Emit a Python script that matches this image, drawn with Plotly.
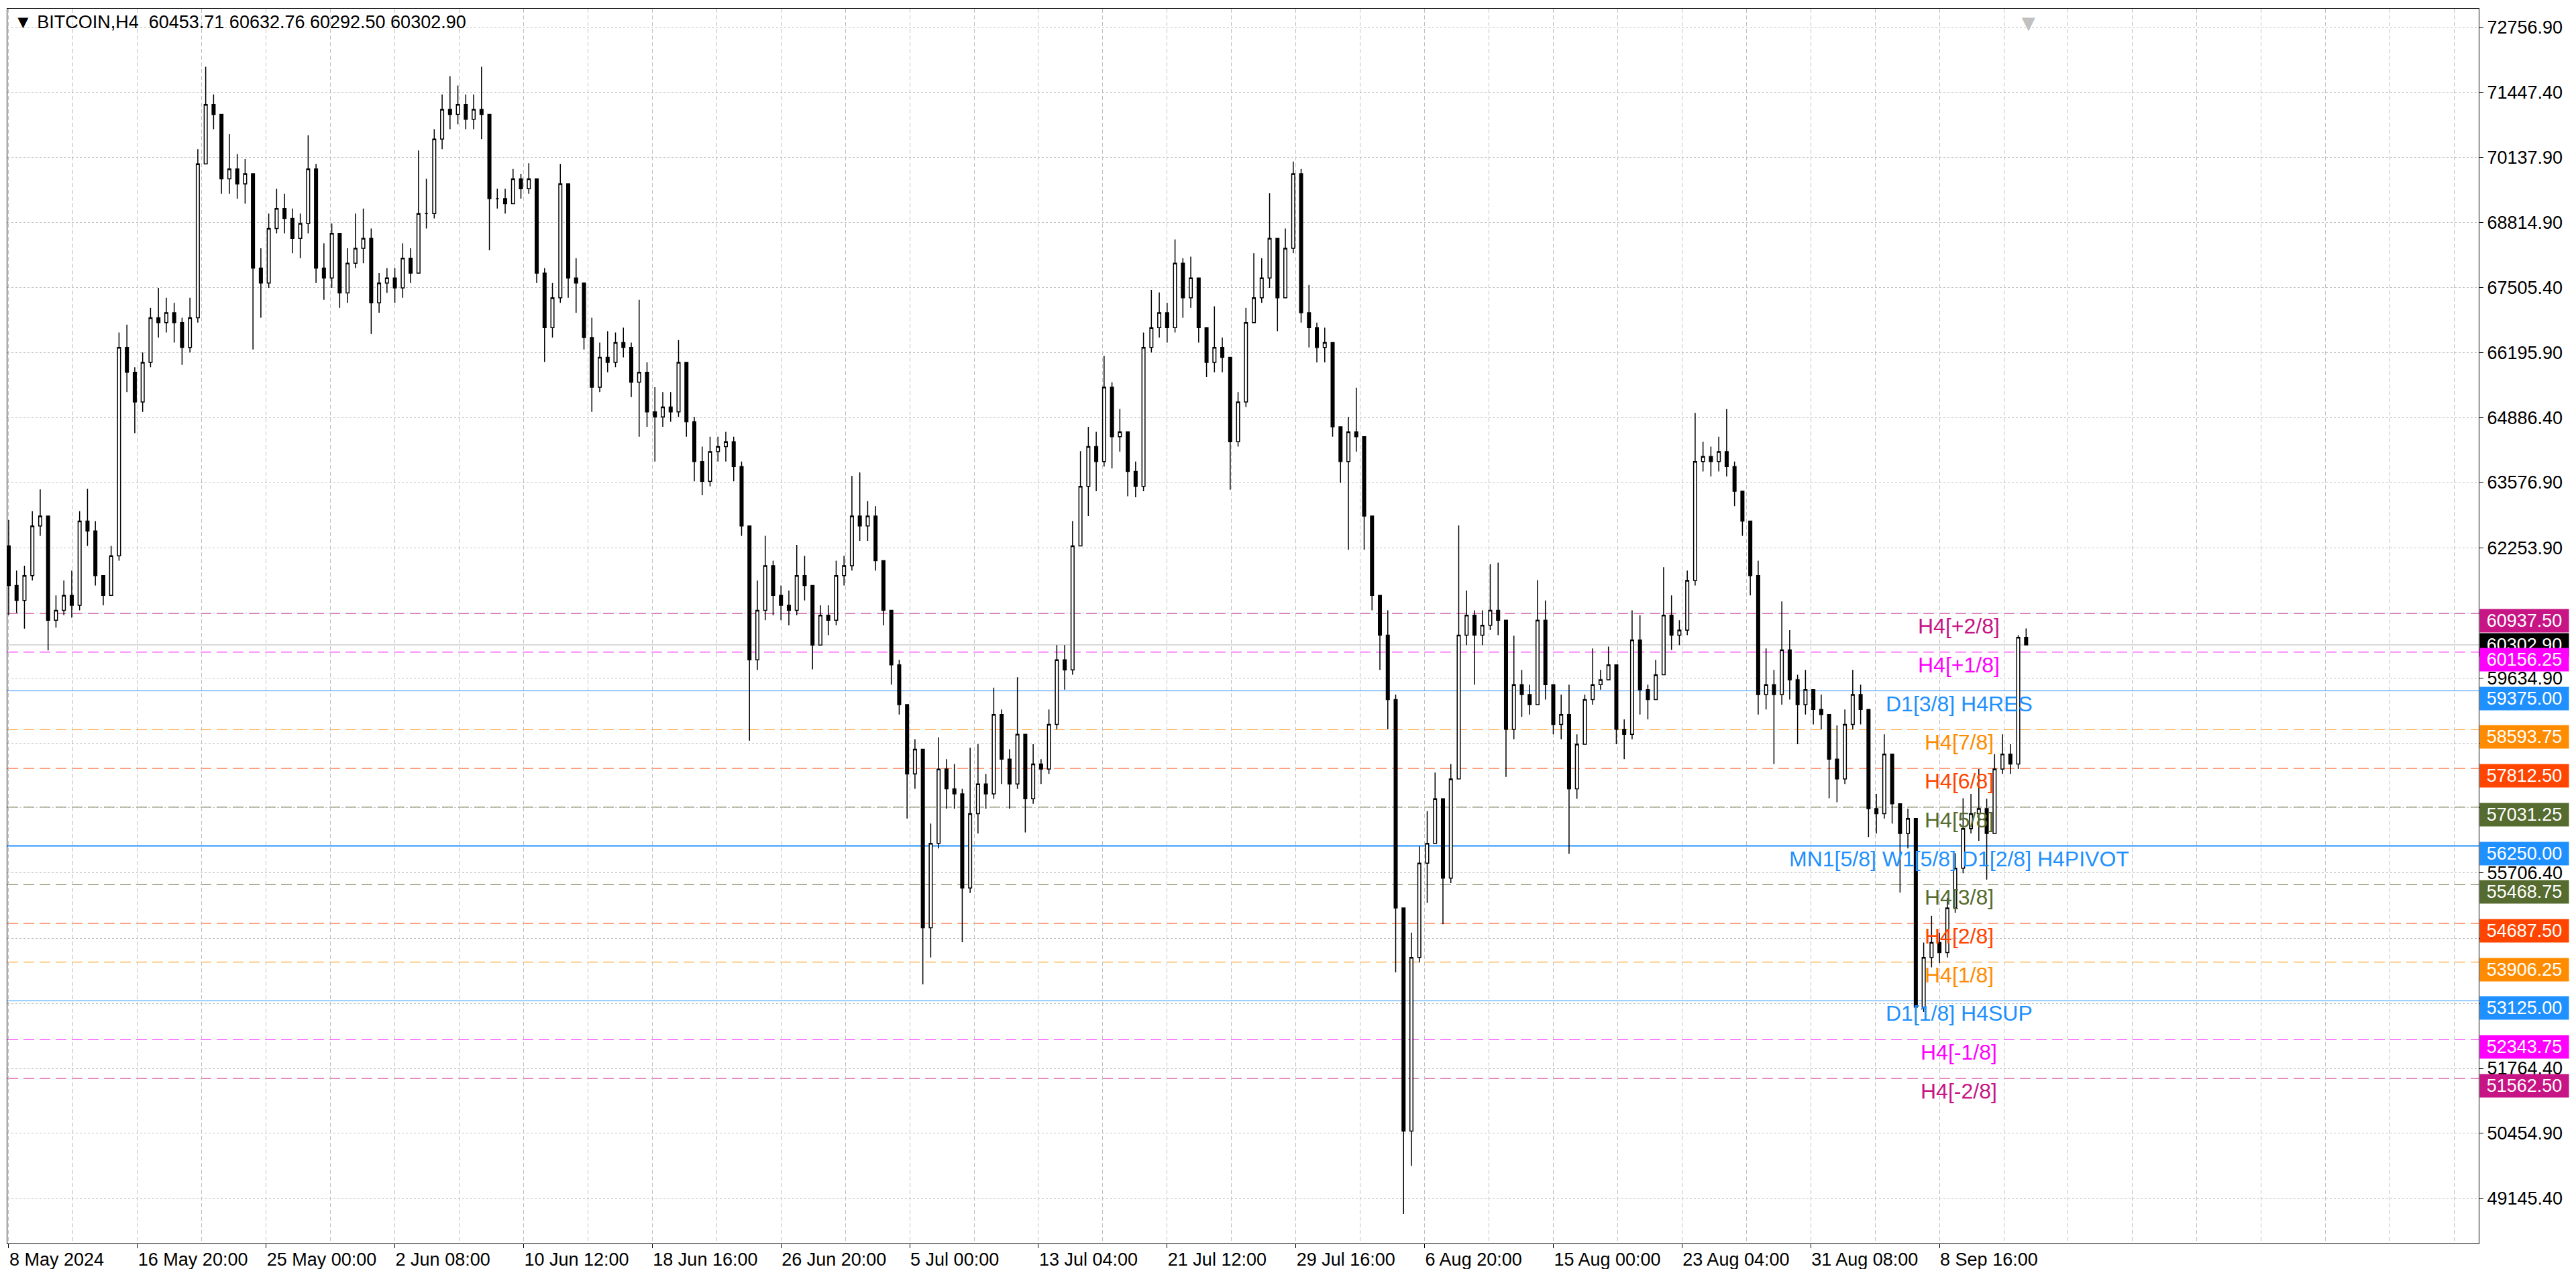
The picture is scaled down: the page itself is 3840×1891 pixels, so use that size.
import plotly.graph_objects as go

# BITCOIN H4 chart, price path.
# One candle here = 3 H4 bars (12 hours); opens follow the previous close.
first_open = 62300

closes = [
    61500, 61200, 61700, 62700, 62900, 60800, 61000, 61300, 61100, 62800,
    62600, 61700, 61300, 62100, 66300, 65800, 65200, 66000, 66900, 66800,
    67000, 66800, 66300, 66900, 70000, 71200, 71000, 69700, 69900, 69600,
    69800, 67900, 67600, 68700, 69100, 68900, 68500, 68800, 69900, 67900,
    67700, 68600, 67400, 68000, 68300, 68500, 67200, 67600, 67700, 67500,
    68100, 67800, 69000, 69000, 70500, 71100, 71000, 71200, 70900, 71100,
    71000, 69300, 69300, 69200, 69700, 69500, 69700, 67800, 66700, 67300,
    69600, 67700, 67600, 66500, 65500, 66100, 66000, 66400, 66300, 65600,
    65800, 65000, 64900, 65100, 65000, 66000, 64800, 64000, 63600, 64200,
    64300, 64400, 63900, 62700, 60000, 61000, 61900, 61300, 61100, 61000,
    61700, 61500, 60300, 60900, 60800, 61700, 61900, 62900, 62700, 62900,
    62000, 61000, 59900, 59100, 57700, 58200, 54600, 56300, 57800, 57400,
    57300, 55400, 56900, 57500, 57300, 58900, 58000, 57500, 58500, 57200,
    57900, 57800, 58700, 60000, 59800, 62300, 63500, 64300, 64000, 65500,
    64500, 64600, 63800, 63500, 66300, 66700, 67000, 66700, 68000, 67300,
    67700, 66700, 66000, 66300, 66100, 64400, 65200, 66800, 67300, 67700,
    68500, 67300, 68300, 69800, 67000, 66700, 66300, 66400, 64700, 64000,
    64600, 64500, 62900, 61300, 60500, 59200, 55000, 50500, 54000, 55900,
    56300, 57200, 55600, 57600, 60500, 60900, 60500, 60700, 61000, 60800,
    58600, 59500, 59300, 59100, 60800, 59500, 58700, 58900, 57400, 58300,
    59200, 59500, 59600, 59900, 58600, 58500, 60400, 59400, 59200, 59700,
    60900, 60500, 60600, 61600, 64000, 64100, 64000, 64200, 63900, 63400,
    62800, 61700, 59300, 59500, 59300, 60200, 59600, 59100, 59400, 59000,
    58900, 58000, 57600, 58700, 59300, 59000, 57000, 56900, 58100, 57100,
    56500, 56800, 53000, 54000, 54300, 54100, 55000, 55800, 56600, 56900,
    57000, 56500, 57800, 58100, 57900, 60453.71, 60302.90,
]

highs = [
    62820, 61800, 61900, 63000, 63440, 62900, 61300, 61600, 61800, 63000,
    63450, 62800, 61700, 62300, 66600, 66760, 65900, 66200, 67100, 67500,
    67300, 67200, 66900, 67300, 70300, 71960, 71400, 71000, 70600, 70200,
    70100, 69800, 68300, 69000, 69500, 69400, 69100, 69000, 70580, 70000,
    68400, 68800, 68600, 68300, 69000, 69100, 68700, 67800, 67900, 67900,
    68400, 68300, 70270, 69700, 70700, 71400, 71770, 71580, 71400, 71400,
    71960, 71000, 69500, 69500, 69900, 69800, 70016, 69700, 67900, 67600,
    70000, 69600, 68100, 67600, 66900, 66400, 66630, 66600, 66700, 66400,
    67260, 66000, 65500, 65400, 65400, 66450, 66000, 64900, 64300, 64500,
    64500, 64600, 64500, 64000, 62700, 61600, 62500, 62000, 61500, 61400,
    62320, 62100, 61500, 61100, 61100, 62000, 62100, 63710, 63780, 63200,
    63100, 62000, 61000, 60000, 59100, 58400, 58200, 56700, 58440, 58000,
    57900, 57400, 58230, 58300, 57700, 59440, 59000, 58200, 59650, 58500,
    58300, 58000, 59000, 60300, 60300, 62800, 64210, 64700, 64600, 66130,
    65600, 65060, 64600, 64000, 66600, 67460, 67410, 67200, 68480, 68100,
    68130, 67700, 66700, 67130, 66500, 66100, 65400, 67100, 68200, 68100,
    69410, 68500, 68700, 70050, 69900, 67560, 66800, 66700, 66400, 64700,
    64900, 65490, 64500, 62900, 61300, 61000, 59300, 55000, 54500, 56240,
    56950, 57730, 57200, 57900, 62710, 61400, 61000, 61000, 61930, 61960,
    60800, 60490, 59800, 59500, 61610, 61200, 59500, 59300, 59500, 58500,
    59300, 60230, 59800, 60270, 59900, 58800, 61000, 60900, 59500, 60000,
    61870, 61300, 60800, 61800, 64980, 64400, 64300, 64500, 65060, 64000,
    63400, 62800, 62000, 60230, 59800, 61180, 60600, 59700, 59800, 59400,
    59300, 58900, 58680, 59000, 59800, 59500, 59000, 57300, 58500, 58100,
    57100, 57000, 56800, 54300, 54840, 54500, 55200, 56100, 57210, 57300,
    57800, 57200, 58100, 58500, 58300, 60500, 60632.76,
]

lows = [
    60900, 60950, 60630, 61600, 62500, 60190, 60650, 60900, 60850, 61000,
    62300, 61500, 61100, 61300, 62000, 65400, 64570, 65000, 65900, 66500,
    66600, 66400, 65950, 66200, 66800, 70000, 70700, 69400, 69400, 69300,
    69200, 66260, 66900, 67500, 68600, 68600, 68200, 68100, 68600, 67600,
    67260, 67500, 67100, 67200, 67900, 68000, 66570, 67000, 67400, 67200,
    67300, 67600, 67800, 68700, 68900, 70300, 70700, 70800, 70700, 70700,
    70500, 68260, 69100, 69000, 69200, 69300, 69400, 67600, 66010, 66500,
    67200, 67300, 67000, 66260, 65000, 65400, 65800, 65900, 66100, 65300,
    64500, 64700, 64000, 64700, 64800, 64900, 64500, 63600, 63320, 63500,
    64000, 64000, 63600, 62500, 58370, 59800, 60800, 60900, 60800, 60700,
    60900, 61200, 59810, 60300, 60500, 60700, 61500, 61800, 62400, 62400,
    61800, 60700, 59500, 58900, 56800, 57400, 53460, 54000, 56200, 57000,
    57000, 54310, 55300, 56500, 57000, 57200, 57500, 57000, 57400, 56520,
    57100, 57500, 57700, 58600, 59400, 59700, 62300, 62900, 63400, 63900,
    63860, 64200, 63300, 63280, 63400, 66200, 66500, 66400, 66600, 66900,
    67100, 66400, 65700, 65800, 65800, 63430, 64300, 65100, 66800, 67200,
    67500, 66630, 67300, 68200, 66800, 66300, 66000, 66000, 64500, 63570,
    62220, 64200, 62220, 61000, 59800, 58600, 53700, 48830, 49800, 53900,
    55100, 56300, 54670, 55500, 57600, 60300, 59500, 60300, 60600, 60500,
    57640, 58400, 58850, 58900, 59100, 59200, 58500, 58400, 56090, 57200,
    58300, 59100, 59400, 59600, 58300, 58000, 58400, 58900, 58800, 59200,
    59700, 60200, 60300, 60500, 61500, 63800, 63700, 63800, 63700, 63100,
    62500, 61300, 58900, 59000, 57900, 59100, 59200, 58300, 58900, 58700,
    58600, 57210, 57130, 57500, 58600, 58700, 56430, 56500, 56800, 56700,
    55310, 56200, 52640, 52900, 53800, 53890, 54000, 54900, 55700, 56500,
    56350, 55570, 56500, 57700, 57700, 57800, 60292.50,
]

assert len(closes) == len(highs) == len(lows)

bars_per_candle = 3
x_labels = [
    "8 May 2024", "16 May 20:00", "25 May 00:00", "2 Jun 08:00",
    "10 Jun 12:00", "18 Jun 16:00", "26 Jun 20:00", "5 Jul 00:00",
    "13 Jul 04:00", "21 Jul 12:00", "29 Jul 16:00", "6 Aug 20:00",
    "15 Aug 00:00", "23 Aug 04:00", "31 Aug 08:00", "8 Sep 16:00",
]
bars_per_label = 49

y_ticks = [
    72756.90, 71447.40, 70137.90, 68814.90, 67505.40, 66195.90, 64886.40,
    63576.90, 62253.90, 60944.40, 59634.90, 58325.40, 57015.90, 55706.40,
    54383.40, 53073.90, 51764.40, 50454.90, 49145.40,
]
# scale labels that sit under the coloured price boxes in the screenshot
y_ticks_hidden = [60944.40, 58325.40, 57015.90, 54383.40, 53073.90]

# Murrey math levels drawn by the indicator
levels = [60937.50, 60156.25, 59375.00, 58593.75, 57812.50, 57031.25, 56250.00,
          55468.75, 54687.50, 53906.25, 53125.00, 52343.75, 51562.50]
level_names = ["H4[+2/8]", "H4[+1/8]", "D1[3/8] H4RES", "H4[7/8]", "H4[6/8]",
               "H4[5/8]", "MN1[5/8] W1[5/8] D1[2/8] H4PIVOT", "H4[3/8]",
               "H4[2/8]", "H4[1/8]", "D1[1/8] H4SUP", "H4[-1/8]", "H4[-2/8]"]
level_colors = ["#C71585", "#FF00FF", "#1E90FF", "#FF8C00", "#FF4500",
                "#556B2F", "#1E90FF", "#556B2F", "#FF4500", "#FF8C00",
                "#1E90FF", "#FF00FF", "#C71585"]
level_solid = [False, False, True, False, False, False, True,
               False, False, False, True, False, False]
pivot_level = 56250.00

FONT = "Liberation Sans, Arial, sans-serif"
GRID = "#C0C0C0"

opens = [first_open] + closes[:-1]
bar_pos = [i * bars_per_candle for i in range(len(closes))]

fig = go.Figure(go.Candlestick(
    x=bar_pos, open=opens, high=highs, low=lows, close=closes,
    increasing=dict(line=dict(color="black", width=1.5), fillcolor="white"),
    decreasing=dict(line=dict(color="black", width=1.5), fillcolor="black"),
    whiskerwidth=0, hoverinfo="skip",
))

label_pos = [i * bars_per_label for i in range(len(x_labels))]
grid_pos = [i * bars_per_label / 2 for i in range(39)]
minor_pos = [p for p in grid_pos if p not in label_pos]

# level lines
for lvl, col, solid in zip(levels, level_colors, level_solid):
    fig.add_shape(type="line", xref="paper", x0=0, x1=1, yref="y", y0=lvl, y1=lvl,
                  line=dict(color=col, width=2 if lvl == pivot_level else 1,
                            dash="solid" if solid else "16px,8px"),
                  layer="below")

last_close = closes[-1]
fig.add_shape(type="line", xref="paper", x0=0, x1=1, yref="y", y0=last_close, y1=last_close,
              line=dict(color="#B4B4B4", width=1), layer="below")

text_x = 742.5
for lvl, name, col in zip(levels, level_names, level_colors):
    fig.add_annotation(x=text_x, y=lvl, xref="x", yref="y", text=name, showarrow=False,
                       xanchor="center", yanchor="top", yshift=1,
                       font=dict(family=FONT, size=32, color=col))

# price boxes on the right scale
fig.add_annotation(x=1, y=last_close, xref="paper", yref="y", text=f"{last_close:.2f}",
                   showarrow=False, xanchor="left", xshift=1, bgcolor="black",
                   width=128, height=30, borderpad=2,
                   font=dict(family=FONT, size=27, color="white"))
for lvl, col in zip(levels, level_colors):
    fig.add_annotation(x=1, y=lvl, xref="paper", yref="y", text=f"{lvl:.2f}",
                       showarrow=False, xanchor="left", xshift=1, yshift=-11,
                       bgcolor=col, width=128, height=30, borderpad=2,
                       font=dict(family=FONT, size=27, color="white"))

header = "\u25BC BITCOIN,H4\u00a0\u00a0" + " ".join(
    f"{v:.2f}" for v in (opens[-1], highs[-1], lows[-1], closes[-1]))
fig.add_annotation(x=0, y=1, xref="paper", yref="paper", text=header, showarrow=False,
                   xanchor="left", yanchor="top", xshift=8, yshift=-3,
                   font=dict(family=FONT, size=27, color="black"))
# chart shift marker
fig.add_annotation(x=bar_pos[-1] + 1, y=1, xref="x", yref="paper", text="\u25BC",
                   showarrow=False, yanchor="top", yshift=0,
                   font=dict(family=FONT, size=34, color="#C0C0C0"))

fig.update_layout(
    width=3840, height=1891,
    margin=dict(l=3, r=153, t=5, b=46),
    paper_bgcolor="white", plot_bgcolor="white",
    showlegend=False, boxgap=0.45,
    font=dict(family=FONT, size=27, color="black"),
    xaxis=dict(
        range=[-0.5, 940.3], tickmode="array", tickvals=label_pos, ticktext=x_labels,
        ticks="outside", ticklen=6, tickcolor="black", tickangle=0,
        ticklabelposition="outside right",
        showline=True, linecolor="black", linewidth=1, mirror=True,
        showgrid=True, gridcolor=GRID, gridwidth=1, griddash="6px,4px",
        minor=dict(tickmode="array", tickvals=minor_pos, ticks="", showgrid=True,
                   gridcolor=GRID, gridwidth=1, griddash="6px,4px"),
        zeroline=False, rangeslider=dict(visible=False),
    ),
    yaxis=dict(
        side="right", range=[48233, 73130], tickmode="array", tickvals=y_ticks,
        ticktext=["" if v in y_ticks_hidden else f"{v:.2f}" for v in y_ticks],
        ticks="outside", ticklen=6, tickcolor="black",
        showline=True, linecolor="black", linewidth=1, mirror=True,
        showgrid=True, gridcolor=GRID, gridwidth=1, griddash="3px,3px",
        zeroline=False,
    ),
)

fig.write_html("out.html")
